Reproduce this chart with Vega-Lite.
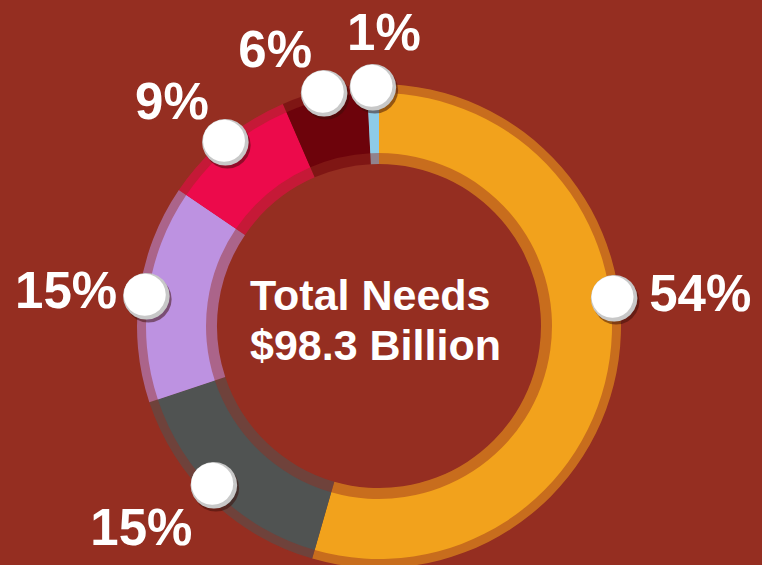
{
  "$schema": "https://vega.github.io/schema/vega-lite/v6.json",
  "autosize": "none",
  "width": 758,
  "height": 478,
  "padding": {"left": 0, "top": 87, "right": 4, "bottom": 0},
  "background": "#952E21",
  "view": {"stroke": null},
  "data": {"values": [
    {"category": "Segment 1", "value": 54.45, "label": "54%"},
    {"category": "Segment 2", "value": 15.45, "label": "15%"},
    {"category": "Segment 3", "value": 14.6, "label": "15%"},
    {"category": "Segment 4", "value": 9.0, "label": "9%"},
    {"category": "Segment 5", "value": 5.7, "label": "6%"},
    {"category": "Segment 6", "value": 0.8, "label": "1%"}
  ]},
  "layer": [
    {
      "mark": {"type": "arc", "innerRadius": 162, "outerRadius": 242, "opacity": 0.55},
      "encoding": {
        "theta": {"field": "value", "type": "quantitative", "stack": true},
        "order": {"field": "category", "type": "ordinal"},
        "color": {"field": "category", "type": "nominal", "legend": null,
          "scale": {"domain": ["Segment 1", "Segment 2", "Segment 3", "Segment 4", "Segment 5", "Segment 6"],
                    "range": ["#F2A21C", "#505352", "#BD92E1", "#EC0A4B", "#6D030B", "#8ECBE7"]}}
      }
    },
    {
      "mark": {"type": "arc", "innerRadius": 173, "outerRadius": 233},
      "encoding": {
        "theta": {"field": "value", "type": "quantitative", "stack": true},
        "order": {"field": "category", "type": "ordinal"},
        "color": {"field": "category", "type": "nominal", "legend": null}
      }
    },
    {
      "data": {"values": [{"id": 1}]},
      "mark": {"type": "text", "text": ["Total Needs", "$98.3 Billion"], "align": "left", "baseline": "alphabetic",
               "dx": -129, "dy": -16, "lineHeight": 50, "font": "Liberation Sans", "fontWeight": "bold", "fontSize": 43, "color": "#ffffff"}
    },
    {
      "mark": {"type": "text", "text": "●", "font": "DejaVu Sans", "fontSize": 61, "align": "center", "baseline": "middle",
               "radius": 237, "thetaOffset": -0.267, "dx": 2, "dy": 3, "color": "#3a0d08"},
      "encoding": {
        "theta": {"field": "value", "type": "quantitative", "stack": true},
        "order": {"field": "category", "type": "ordinal"},
        "detail": {"field": "category"},
        "opacity": {"condition": {"test": "datum.category === 'Segment 1'", "value": 0.5}, "value": 0}
      }
    },
    {
      "mark": {"type": "text", "text": "●", "font": "DejaVu Sans", "fontSize": 61, "align": "center", "baseline": "middle",
               "radius": 237, "thetaOffset": -0.267, "color": "#c8c8c8"},
      "encoding": {
        "theta": {"field": "value", "type": "quantitative", "stack": true},
        "order": {"field": "category", "type": "ordinal"},
        "detail": {"field": "category"},
        "opacity": {"condition": {"test": "datum.category === 'Segment 1'", "value": 1}, "value": 0}
      }
    },
    {
      "mark": {"type": "text", "text": "●", "font": "DejaVu Sans", "fontSize": 55, "align": "center", "baseline": "middle",
               "radius": 237, "thetaOffset": -0.267, "dx": -1.5, "dy": -2, "color": "#ffffff"},
      "encoding": {
        "theta": {"field": "value", "type": "quantitative", "stack": true},
        "order": {"field": "category", "type": "ordinal"},
        "detail": {"field": "category"},
        "opacity": {"condition": {"test": "datum.category === 'Segment 1'", "value": 1}, "value": 0}
      }
    },
    {
      "mark": {"type": "text", "text": "●", "font": "DejaVu Sans", "fontSize": 61, "align": "center", "baseline": "middle",
               "radius": 228, "thetaOffset": 0.045, "dx": 2, "dy": 3, "color": "#3a0d08"},
      "encoding": {
        "theta": {"field": "value", "type": "quantitative", "stack": true},
        "order": {"field": "category", "type": "ordinal"},
        "detail": {"field": "category"},
        "opacity": {"condition": {"test": "datum.category === 'Segment 2'", "value": 0.5}, "value": 0}
      }
    },
    {
      "mark": {"type": "text", "text": "●", "font": "DejaVu Sans", "fontSize": 61, "align": "center", "baseline": "middle",
               "radius": 228, "thetaOffset": 0.045, "color": "#c8c8c8"},
      "encoding": {
        "theta": {"field": "value", "type": "quantitative", "stack": true},
        "order": {"field": "category", "type": "ordinal"},
        "detail": {"field": "category"},
        "opacity": {"condition": {"test": "datum.category === 'Segment 2'", "value": 1}, "value": 0}
      }
    },
    {
      "mark": {"type": "text", "text": "●", "font": "DejaVu Sans", "fontSize": 55, "align": "center", "baseline": "middle",
               "radius": 228, "thetaOffset": 0.045, "dx": -1.5, "dy": -2, "color": "#ffffff"},
      "encoding": {
        "theta": {"field": "value", "type": "quantitative", "stack": true},
        "order": {"field": "category", "type": "ordinal"},
        "detail": {"field": "category"},
        "opacity": {"condition": {"test": "datum.category === 'Segment 2'", "value": 1}, "value": 0}
      }
    },
    {
      "mark": {"type": "text", "text": "●", "font": "DejaVu Sans", "fontSize": 61, "align": "center", "baseline": "middle",
               "radius": 235, "dx": 2, "dy": 3, "color": "#3a0d08"},
      "encoding": {
        "theta": {"field": "value", "type": "quantitative", "stack": true},
        "order": {"field": "category", "type": "ordinal"},
        "detail": {"field": "category"},
        "opacity": {"condition": {"test": "datum.category === 'Segment 3'", "value": 0.5}, "value": 0}
      }
    },
    {
      "mark": {"type": "text", "text": "●", "font": "DejaVu Sans", "fontSize": 61, "align": "center", "baseline": "middle",
               "radius": 235, "color": "#c8c8c8"},
      "encoding": {
        "theta": {"field": "value", "type": "quantitative", "stack": true},
        "order": {"field": "category", "type": "ordinal"},
        "detail": {"field": "category"},
        "opacity": {"condition": {"test": "datum.category === 'Segment 3'", "value": 1}, "value": 0}
      }
    },
    {
      "mark": {"type": "text", "text": "●", "font": "DejaVu Sans", "fontSize": 55, "align": "center", "baseline": "middle",
               "radius": 235, "dx": -1.5, "dy": -2, "color": "#ffffff"},
      "encoding": {
        "theta": {"field": "value", "type": "quantitative", "stack": true},
        "order": {"field": "category", "type": "ordinal"},
        "detail": {"field": "category"},
        "opacity": {"condition": {"test": "datum.category === 'Segment 3'", "value": 1}, "value": 0}
      }
    },
    {
      "mark": {"type": "text", "text": "●", "font": "DejaVu Sans", "fontSize": 61, "align": "center", "baseline": "middle",
               "radius": 241, "dx": 2, "dy": 3, "color": "#3a0d08"},
      "encoding": {
        "theta": {"field": "value", "type": "quantitative", "stack": true},
        "order": {"field": "category", "type": "ordinal"},
        "detail": {"field": "category"},
        "opacity": {"condition": {"test": "datum.category >= 'Segment 4'", "value": 0.5}, "value": 0}
      }
    },
    {
      "mark": {"type": "text", "text": "●", "font": "DejaVu Sans", "fontSize": 61, "align": "center", "baseline": "middle",
               "radius": 241, "color": "#c8c8c8"},
      "encoding": {
        "theta": {"field": "value", "type": "quantitative", "stack": true},
        "order": {"field": "category", "type": "ordinal"},
        "detail": {"field": "category"},
        "opacity": {"condition": {"test": "datum.category >= 'Segment 4'", "value": 1}, "value": 0}
      }
    },
    {
      "mark": {"type": "text", "text": "●", "font": "DejaVu Sans", "fontSize": 55, "align": "center", "baseline": "middle",
               "radius": 241, "dx": -1.5, "dy": -2, "color": "#ffffff"},
      "encoding": {
        "theta": {"field": "value", "type": "quantitative", "stack": true},
        "order": {"field": "category", "type": "ordinal"},
        "detail": {"field": "category"},
        "opacity": {"condition": {"test": "datum.category >= 'Segment 4'", "value": 1}, "value": 0}
      }
    },
    {
      "mark": {"type": "text", "font": "Liberation Sans", "fontWeight": "bold", "fontSize": 51, "align": "center", "baseline": "middle",
               "dy": 3, "radius": 323, "thetaOffset": -0.243, "color": "#ffffff"},
      "encoding": {
        "theta": {"field": "value", "type": "quantitative", "stack": true},
        "order": {"field": "category", "type": "ordinal"},
        "detail": {"field": "category"},
        "text": {"field": "label"},
        "opacity": {"condition": {"test": "datum.category === 'Segment 1'", "value": 1}, "value": 0}
      }
    },
    {
      "mark": {"type": "text", "font": "Liberation Sans", "fontWeight": "bold", "fontSize": 51, "align": "center", "baseline": "middle",
               "dy": 3, "radius": 311, "thetaOffset": 0.105, "color": "#ffffff"},
      "encoding": {
        "theta": {"field": "value", "type": "quantitative", "stack": true},
        "order": {"field": "category", "type": "ordinal"},
        "detail": {"field": "category"},
        "text": {"field": "label"},
        "opacity": {"condition": {"test": "datum.category === 'Segment 2'", "value": 1}, "value": 0}
      }
    },
    {
      "mark": {"type": "text", "font": "Liberation Sans", "fontWeight": "bold", "fontSize": 51, "align": "center", "baseline": "middle",
               "dy": 3, "radius": 315, "thetaOffset": -0.023, "color": "#ffffff"},
      "encoding": {
        "theta": {"field": "value", "type": "quantitative", "stack": true},
        "order": {"field": "category", "type": "ordinal"},
        "detail": {"field": "category"},
        "text": {"field": "label"},
        "opacity": {"condition": {"test": "datum.category === 'Segment 3'", "value": 1}, "value": 0}
      }
    },
    {
      "mark": {"type": "text", "font": "Liberation Sans", "fontWeight": "bold", "fontSize": 51, "align": "center", "baseline": "middle",
               "dy": 3, "radius": 306, "thetaOffset": -0.052, "color": "#ffffff"},
      "encoding": {
        "theta": {"field": "value", "type": "quantitative", "stack": true},
        "order": {"field": "category", "type": "ordinal"},
        "detail": {"field": "category"},
        "text": {"field": "label"},
        "opacity": {"condition": {"test": "datum.category === 'Segment 4'", "value": 1}, "value": 0}
      }
    },
    {
      "mark": {"type": "text", "font": "Liberation Sans", "fontWeight": "bold", "fontSize": 51, "align": "center", "baseline": "middle",
               "dy": 3, "radius": 296, "thetaOffset": -0.129, "color": "#ffffff"},
      "encoding": {
        "theta": {"field": "value", "type": "quantitative", "stack": true},
        "order": {"field": "category", "type": "ordinal"},
        "detail": {"field": "category"},
        "text": {"field": "label"},
        "opacity": {"condition": {"test": "datum.category === 'Segment 5'", "value": 1}, "value": 0}
      }
    },
    {
      "mark": {"type": "text", "font": "Liberation Sans", "fontWeight": "bold", "fontSize": 51, "align": "center", "baseline": "middle",
               "dy": 3, "radius": 294, "thetaOffset": 0.042, "color": "#ffffff"},
      "encoding": {
        "theta": {"field": "value", "type": "quantitative", "stack": true},
        "order": {"field": "category", "type": "ordinal"},
        "detail": {"field": "category"},
        "text": {"field": "label"},
        "opacity": {"condition": {"test": "datum.category === 'Segment 6'", "value": 1}, "value": 0}
      }
    }
  ]
}
